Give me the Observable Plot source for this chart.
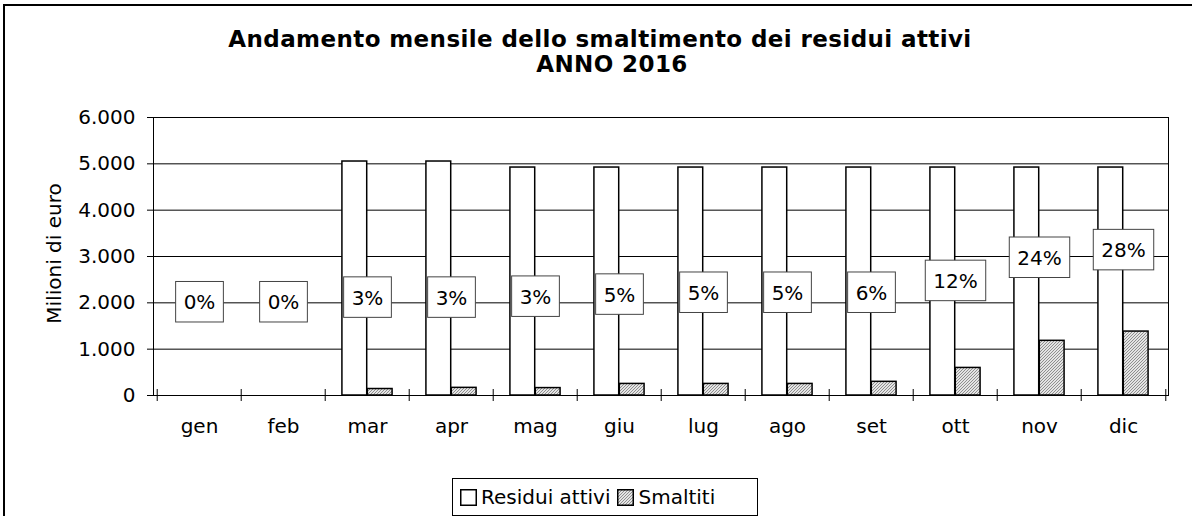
<!DOCTYPE html>
<html><head><meta charset="utf-8">
<script src="https://cdn.jsdelivr.net/npm/d3@7"></script>
<script src="https://cdn.jsdelivr.net/npm/@observablehq/plot@0.6"></script>
<style>
html,body{margin:0;padding:0;background:#fff;overflow:hidden;color:#000;font-family:"DejaVu Sans",Verdana,sans-serif;}
#wrap{position:relative;width:1192px;height:516px;overflow:hidden;}
#border{position:absolute;left:3px;top:4px;width:1400px;height:700px;border-top:2px solid #000;border-left:2px solid #000;pointer-events:none;}
#title{height:90px;box-sizing:border-box;padding-top:27px;font-weight:bold;font-size:23px;line-height:25px;text-align:center;letter-spacing:0.4px;}
#title .l1{padding-left:8px;}
#title .l2{padding-left:32px;}
#chart svg{display:block;}
#legend{position:absolute;left:452px;top:478px;width:306px;height:38px;box-sizing:border-box;border:1px solid #000;display:flex;align-items:center;padding-left:7px;font-size:20px;white-space:nowrap;background:#fff;}
#legend .sw{width:17px;height:17px;display:block;}
</style>
</head><body>
<div id="wrap">
  <div id="border"></div>
  <div id="title"><div class="l1">Andamento mensile dello smaltimento dei residui attivi</div><div class="l2">ANNO 2016</div></div>
  <div id="chart"></div>
  <div id="legend">
    <svg class="sw" viewBox="0 0 17 17"><rect x="0.75" y="0.75" width="15.5" height="15.5" fill="#fff" stroke="#000" stroke-width="1.5"/></svg>
    <span style="margin-left:4px">Residui attivi</span>
    <svg class="sw" viewBox="0 0 17 17" style="margin-left:7px"><defs><pattern id="hatchL" patternUnits="userSpaceOnUse" width="3" height="3"><rect width="3" height="3" fill="#e4e4e4"/><path d="M-1,1 l2,-2 M0,3 l3,-3 M2,4 l2,-2" stroke="#7a7a7a" stroke-width="0.8"/></pattern></defs><rect x="0.75" y="0.75" width="15.5" height="15.5" fill="url(#hatchL)" stroke="#000" stroke-width="1.5"/></svg>
    <span style="margin-left:4px">Smaltiti</span>
  </div>
</div>
<script>
const months = ["gen","feb","mar","apr","mag","giu","lug","ago","set","ott","nov","dic"];
const residui = [0,0,5050,5050,4920,4920,4920,4920,4920,4920,4920,4920];
const smaltiti = [0,0,140,165,160,250,250,250,295,595,1180,1380];
const percentuali = ["0%","0%","3%","3%","3%","5%","5%","5%","6%","12%","24%","28%"];
const posEtichette = [2000,2000,2100,2100,2120,2165,2205,2205,2205,2460,2960,3125];
const yTicks = [0,1000,2000,3000,4000,5000,6000];

const rows = months.map((m,i)=>({month:m, residui:residui[i], smaltiti:smaltiti[i], pct:percentuali[i], ly:posEtichette[i]}));

const W=1192, H=360, mL=153, mR=24, mT=27, mB=55;
const bw = (W-mL-mR)/months.length;
const barW = bw*0.3;
const gap = (bw-2*barW)/2;
const fmt = d3.formatLocale({decimal:",", thousands:".", grouping:[3], currency:["","€"]}).format(",");
const FS = 20;

const svg = Plot.plot({
  width:W, height:H, marginLeft:mL, marginRight:mR, marginTop:mT, marginBottom:mB,
  style:{fontFamily:'"DejaVu Sans", Verdana, sans-serif', fontSize:FS+"px", background:"transparent", color:"#000", overflow:"visible"},
  x:{domain:months, padding:0, axis:null},
  y:{domain:[0,6000], axis:null},
  marks:[
    Plot.gridY(yTicks,{stroke:"#000", strokeOpacity:1, strokeWidth:1}),
    Plot.barY(rows.filter(d=>d.residui>0),{x:"month", y:"residui", fill:"#fff", stroke:"#000", strokeWidth:1.5, insetLeft:gap, insetRight:bw-gap-barW}),
    Plot.barY(rows.filter(d=>d.smaltiti>0),{x:"month", y:"smaltiti", fill:"url(#hatch)", stroke:"#000", strokeWidth:1.5, insetLeft:gap+barW, insetRight:gap}),
    Plot.frame({stroke:"#000", strokeWidth:1}),
    Plot.axisY(yTicks,{tickSize:6, tickPadding:12, tickFormat:fmt, fontSize:FS, stroke:"#000", label:null}),
    Plot.axisX({tickSize:0, tickPadding:23, fontSize:FS, label:null}),
    Plot.ruleX(months,{x:d=>d, y1:0, y2:0, insetTop:-6, insetBottom:-6, dx:-bw/2, stroke:"#000"}),
    Plot.ruleX(["dic"],{x:d=>d, y1:0, y2:0, insetTop:-6, insetBottom:-6, dx:bw/2, stroke:"#000"}),
    Plot.text(["Milioni di euro"],{frameAnchor:"left", textAnchor:"middle", rotate:-90, dx:-99, dy:-3, fontSize:FS}),
    Plot.text(rows,{x:"month", y:"ly", text:"pct", fontSize:FS})
  ]
});
svg.insertAdjacentHTML("afterbegin",'<defs><pattern id="hatch" patternUnits="userSpaceOnUse" width="3" height="3"><rect width="3" height="3" fill="#e4e4e4"/><path d="M-1,1 l2,-2 M0,3 l3,-3 M2,4 l2,-2" stroke="#7a7a7a" stroke-width="0.8"/></pattern></defs>');
document.getElementById("chart").appendChild(svg);

// white boxes behind percentage labels
const textGroups = svg.querySelectorAll('g[aria-label="text"]');
const lab = textGroups[textGroups.length-1];
lab.querySelectorAll("text").forEach(t=>{
  const b = t.getBBox();
  const r = document.createElementNS("http://www.w3.org/2000/svg","rect");
  const padX = 8, h = 40.5;
  const cy = b.y + b.height/2 - 0.5;
  r.setAttribute("x", b.x - padX);
  r.setAttribute("y", cy - h/2);
  r.setAttribute("width", b.width + 2*padX);
  r.setAttribute("height", h);
  r.setAttribute("fill","#fff");
  r.setAttribute("stroke","#444");
  r.setAttribute("stroke-width","1");
  if (t.getAttribute("transform")) r.setAttribute("transform", t.getAttribute("transform"));
  t.parentNode.insertBefore(r, t);
});
</script>
</body></html>
